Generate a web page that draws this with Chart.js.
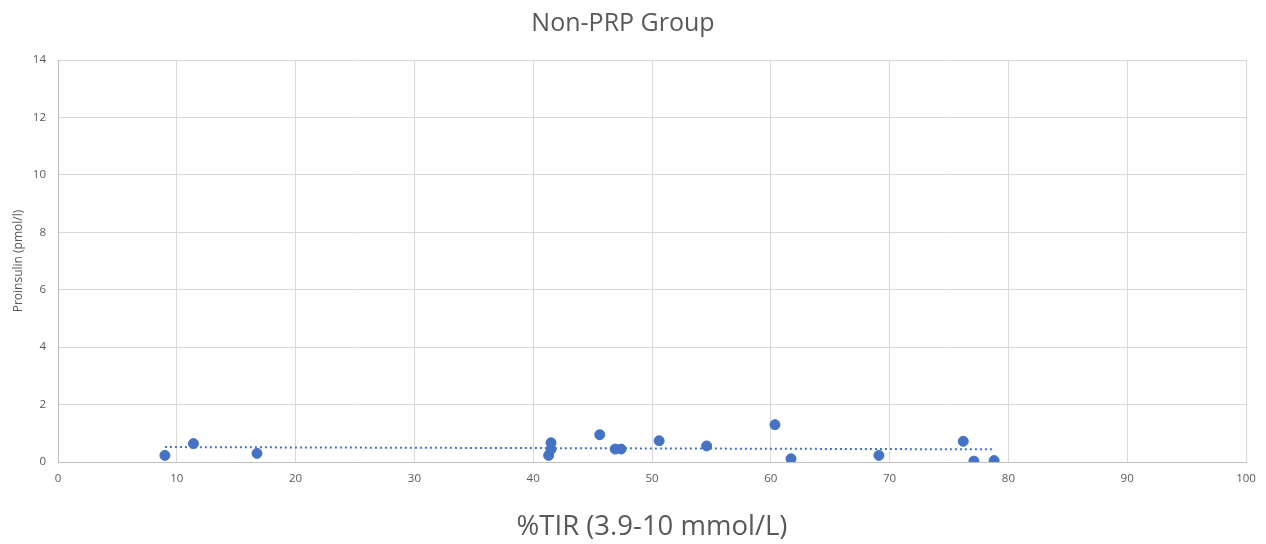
<!DOCTYPE html>
<html>
<head>
<meta charset="utf-8">
<script src="https://cdn.jsdelivr.net/npm/chart.js@4"></script>
<style>
  html, body { margin: 0; padding: 0; background: #fff; }
  #wrap { width: 1266px; height: 544px; }
</style>
</head>
<body>
<div id="wrap"><canvas id="chart"></canvas></div>
<script>
// values
const tirValues = [9.0, 11.4, 16.75, 41.3, 41.5, 41.5, 45.6, 46.9, 47.4, 50.6, 54.6, 60.35, 61.7, 69.1, 76.2, 77.1, 78.8];
const proinsulinValues = [0.23, 0.64, 0.30, 0.23, 0.67, 0.44, 0.95, 0.45, 0.45, 0.74, 0.56, 1.30, 0.11, 0.23, 0.72, 0.03, 0.05];

// trendline ends, as drawn
const trendX = [9.0, 78.8];
const trendY = [0.52, 0.44];

const blue = "#4472c4";
const textGrey = "#595959";

const points = tirValues.map((x, i) => ({ x: x, y: proinsulinValues[i] }));
const trend = trendX.map((x, i) => ({ x: x, y: trendY[i] }));

new Chart(document.getElementById("chart"), {
    type: "scatter",
    data: {
        datasets: [
            {
                data: points,
                backgroundColor: blue,
                borderColor: blue,
                pointRadius: 5,
                pointHoverRadius: 5,
            },
            {
                data: trend,
                showLine: true,
                borderColor: blue,
                borderWidth: 2,
                borderDash: [2, 3],
                pointRadius: 0,
                fill: false,
            },
        ],
    },
    options: {
        responsive: true,
        maintainAspectRatio: false,
        animation: false,
        layout: { padding: { left: 0, right: 20, top: 0, bottom: 0 } },
        plugins: {
            legend: { display: false },
            tooltip: { enabled: false },
            title: {
                display: true,
                text: "Non-PRP Group",
                color: textGrey,
                font: { family: "Open Sans", size: 25, weight: "normal" },
                padding: { top: 9, bottom: 21 },
            },
        },
        scales: {
            x: {
                type: "linear",
                min: 0,
                max: 100,
                ticks: {
                    stepSize: 10,
                    color: textGrey,
                    padding: 10,
                    font: { family: "Open Sans", size: 11.5 },
                },
                grid: { color: "#d9d9d9", drawTicks: false },
                border: { color: "#bfbfbf" },
                title: {
                    display: true,
                    text: "%TIR (3.9-10 mmol/L)",
                    color: textGrey,
                    font: { family: "Open Sans", size: 27.5 },
                    padding: { top: 0, bottom: 0 },
                },
                afterFit: (scale) => { scale.height = 82; },
            },
            y: {
                min: 0,
                max: 14,
                ticks: {
                    stepSize: 2,
                    color: textGrey,
                    padding: 12,
                    font: { family: "Open Sans", size: 11.5 },
                },
                grid: { color: "#d9d9d9", drawTicks: false },
                border: { color: "#bfbfbf" },
                title: {
                    display: true,
                    text: "Proinsulin (pmol/l)",
                    color: textGrey,
                    font: { family: "Open Sans", size: 12 },
                    padding: { top: 11, bottom: 0 },
                },
                afterFit: (scale) => { scale.width = 58; },
            },
        },
    },
});
</script>
</body>
</html>
